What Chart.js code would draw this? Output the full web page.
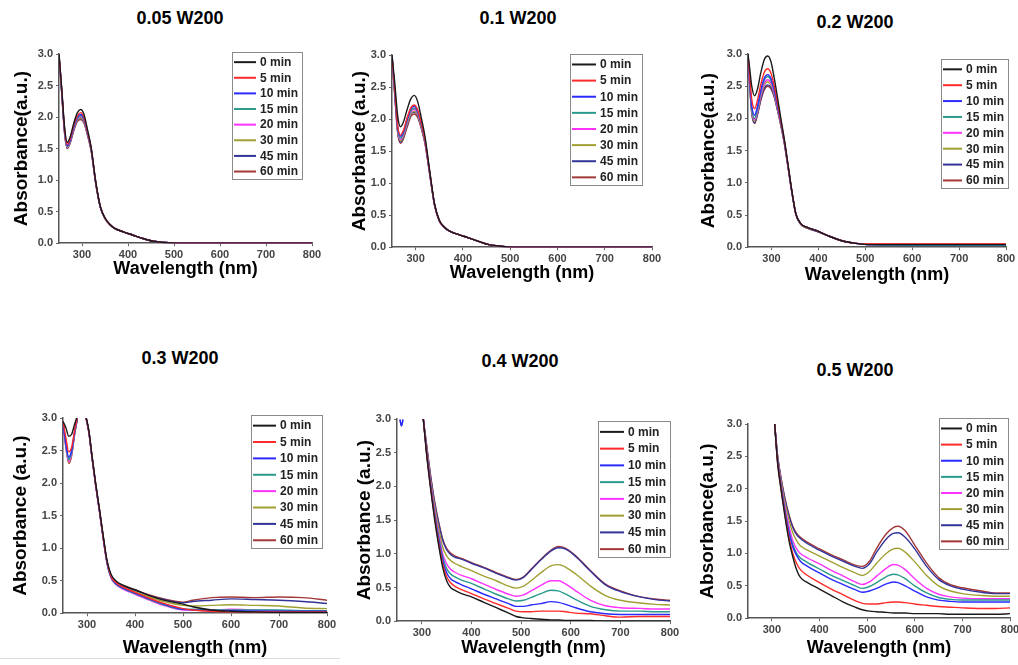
<!DOCTYPE html>
<html>
<head>
<meta charset="utf-8">
<script src="https://cdn.jsdelivr.net/npm/chart.js@4.4.1/dist/chart.umd.min.js"></script>
<style>
  html, body { margin: 0; padding: 0; background: #fff; overflow: hidden; width: 1018px; height: 665px; }
  canvas { position: absolute; }
  .ttl { position: absolute; font: bold 18px 'Liberation Sans', Arial, sans-serif; color: #000; transform: translate(-50%, -50%); white-space: nowrap; }
  .rule { position: absolute; left: 0; top: 658px; width: 340px; height: 1px; background: #ddd; }
</style>
</head>
<body>
<div class="rule"></div>
<script>
// legend labels + colours (same in every panel)
const minutes = ['0 min', '5 min', '10 min', '15 min', '20 min', '30 min', '45 min', '60 min'];
const lineColors = ['#1a1a1a', '#ff2a2a', '#2a2aff', '#2a9a8c', '#ff33ff', '#a0a032', '#33339a', '#a33838'];
const xTicks = [300, 400, 500, 600, 700, 800];

// 0.05 W200
const wlA = [250, 256, 262, 268, 274, 282, 290, 297, 304, 312, 320, 330, 340, 350, 360, 372, 390, 410, 430, 455, 480, 510, 600, 700, 800];
const absA = [
  [3.0, 2.45, 1.85, 1.6, 1.68, 1.9, 2.07, 2.12, 2.05, 1.8, 1.52, 0.97, 0.58, 0.4, 0.3, 0.23, 0.18, 0.13, 0.08, 0.03, 0.01, 0, 0, 0, 0],
  [3.0, 2.43, 1.82, 1.57, 1.65, 1.87, 2.02, 2.07, 2.0, 1.77, 1.5, 0.96, 0.58, 0.4, 0.3, 0.23, 0.18, 0.13, 0.08, 0.03, 0.01, 0, 0, 0, 0],
  [2.98, 2.42, 1.8, 1.55, 1.63, 1.85, 2.0, 2.04, 1.98, 1.76, 1.49, 0.96, 0.57, 0.4, 0.3, 0.23, 0.18, 0.13, 0.08, 0.03, 0.01, 0, 0, 0, 0],
  [2.97, 2.4, 1.79, 1.54, 1.62, 1.83, 1.98, 2.02, 1.96, 1.75, 1.48, 0.95, 0.57, 0.4, 0.3, 0.23, 0.18, 0.13, 0.08, 0.03, 0.01, 0, 0, 0, 0],
  [2.97, 2.4, 1.78, 1.53, 1.61, 1.82, 1.97, 2.01, 1.95, 1.74, 1.48, 0.95, 0.57, 0.4, 0.3, 0.23, 0.18, 0.13, 0.08, 0.03, 0.01, 0, 0, 0, 0],
  [2.96, 2.39, 1.77, 1.52, 1.6, 1.81, 1.96, 1.99, 1.94, 1.73, 1.47, 0.95, 0.57, 0.39, 0.3, 0.23, 0.18, 0.13, 0.08, 0.03, 0.01, 0, 0, 0, 0],
  [2.96, 2.38, 1.76, 1.51, 1.59, 1.8, 1.95, 1.98, 1.93, 1.72, 1.47, 0.94, 0.57, 0.39, 0.3, 0.23, 0.18, 0.13, 0.08, 0.03, 0.01, 0, 0, 0, 0],
  [2.95, 2.37, 1.75, 1.5, 1.58, 1.78, 1.93, 1.96, 1.91, 1.71, 1.46, 0.94, 0.56, 0.39, 0.3, 0.23, 0.18, 0.13, 0.08, 0.03, 0.01, 0, 0, 0, 0]
];

// 0.1 W200
const wlB = [250, 256, 262, 268, 274, 282, 290, 297, 304, 312, 320, 330, 340, 350, 360, 372, 390, 410, 430, 455, 480, 510, 600, 700, 800];
const absB = [
  [3.0, 2.55, 2.05, 1.88, 1.95, 2.15, 2.32, 2.37, 2.28, 2.02, 1.72, 1.18, 0.68, 0.42, 0.32, 0.25, 0.2, 0.15, 0.1, 0.04, 0.015, 0, 0, 0, 0],
  [2.98, 2.45, 1.9, 1.75, 1.82, 2.02, 2.18, 2.22, 2.15, 1.94, 1.67, 1.16, 0.67, 0.42, 0.32, 0.25, 0.2, 0.15, 0.1, 0.04, 0.015, 0, 0, 0, 0],
  [3.0, 2.43, 1.88, 1.73, 1.8, 2.0, 2.16, 2.2, 2.13, 1.93, 1.66, 1.15, 0.67, 0.42, 0.32, 0.25, 0.2, 0.15, 0.1, 0.04, 0.015, 0, 0, 0, 0],
  [2.97, 2.41, 1.85, 1.7, 1.77, 1.97, 2.13, 2.17, 2.11, 1.91, 1.65, 1.15, 0.66, 0.42, 0.32, 0.25, 0.2, 0.15, 0.1, 0.04, 0.015, 0, 0, 0, 0],
  [2.97, 2.4, 1.83, 1.68, 1.75, 1.95, 2.11, 2.15, 2.09, 1.9, 1.64, 1.14, 0.66, 0.41, 0.32, 0.25, 0.2, 0.15, 0.1, 0.04, 0.015, 0, 0, 0, 0],
  [2.96, 2.38, 1.81, 1.66, 1.73, 1.92, 2.08, 2.12, 2.07, 1.88, 1.63, 1.14, 0.66, 0.41, 0.32, 0.25, 0.2, 0.15, 0.1, 0.04, 0.015, 0, 0, 0, 0],
  [2.96, 2.37, 1.8, 1.64, 1.71, 1.9, 2.07, 2.11, 2.06, 1.87, 1.62, 1.13, 0.66, 0.41, 0.31, 0.25, 0.2, 0.15, 0.1, 0.04, 0.015, 0, 0, 0, 0],
  [2.95, 2.36, 1.78, 1.62, 1.69, 1.87, 2.04, 2.08, 2.03, 1.85, 1.61, 1.13, 0.65, 0.41, 0.31, 0.25, 0.2, 0.15, 0.1, 0.04, 0.015, 0, 0, 0, 0]
];

// 0.2 W200
const wlC = [250, 254, 258, 264, 270, 277, 285, 292, 299, 306, 313, 320, 328, 336, 344, 352, 362, 375, 395, 420, 450, 480, 510, 600, 700, 800];
const absC = [
  [3.0, 2.75, 2.5, 2.35, 2.45, 2.7, 2.92, 2.97, 2.88, 2.62, 2.32, 2.0, 1.65, 1.25, 0.85, 0.52, 0.37, 0.31, 0.26, 0.18, 0.1, 0.06, 0.04, 0.04, 0.04, 0.04],
  [3.0, 2.62, 2.3, 2.15, 2.28, 2.52, 2.72, 2.77, 2.7, 2.5, 2.24, 1.96, 1.63, 1.24, 0.85, 0.52, 0.37, 0.31, 0.26, 0.18, 0.1, 0.06, 0.05, 0.05, 0.05, 0.05],
  [2.98, 2.55, 2.2, 2.05, 2.18, 2.43, 2.63, 2.68, 2.62, 2.44, 2.2, 1.94, 1.62, 1.23, 0.84, 0.52, 0.37, 0.31, 0.26, 0.18, 0.1, 0.06, 0.04, 0.04, 0.04, 0.04],
  [2.97, 2.52, 2.15, 2.0, 2.14, 2.4, 2.6, 2.65, 2.59, 2.42, 2.18, 1.93, 1.61, 1.23, 0.84, 0.52, 0.37, 0.31, 0.26, 0.18, 0.1, 0.06, 0.04, 0.03, 0.03, 0.03],
  [2.97, 2.5, 2.13, 1.98, 2.11, 2.36, 2.55, 2.6, 2.55, 2.39, 2.16, 1.92, 1.6, 1.22, 0.84, 0.51, 0.37, 0.31, 0.26, 0.18, 0.1, 0.06, 0.04, 0.04, 0.04, 0.04],
  [2.96, 2.49, 2.11, 1.96, 2.09, 2.33, 2.52, 2.57, 2.52, 2.37, 2.15, 1.91, 1.6, 1.22, 0.83, 0.51, 0.36, 0.3, 0.26, 0.18, 0.1, 0.06, 0.04, 0.04, 0.04, 0.04],
  [2.96, 2.48, 2.09, 1.93, 2.06, 2.29, 2.47, 2.52, 2.48, 2.34, 2.13, 1.9, 1.59, 1.21, 0.83, 0.51, 0.36, 0.3, 0.25, 0.18, 0.1, 0.06, 0.04, 0.03, 0.03, 0.03],
  [2.95, 2.47, 2.08, 1.92, 2.05, 2.27, 2.45, 2.5, 2.46, 2.33, 2.12, 1.89, 1.59, 1.21, 0.83, 0.51, 0.36, 0.3, 0.25, 0.18, 0.1, 0.06, 0.05, 0.05, 0.05, 0.05]
];

// 0.3 W200 (peak near 290 nm runs off scale)
const wlD = [250, 256, 262, 268, 274, 280, 286, 292, 298, 304, 310, 318, 326, 334, 342, 350, 360, 375, 400, 430, 460, 500, 520, 560, 600, 650, 700, 750, 800];
const absD = [
  [2.95, 2.85, 2.72, 2.75, 2.9, 3.05, 3.3, 3.2, 3.02, 2.8, 2.45, 2.0, 1.6, 1.18, 0.8, 0.6, 0.5, 0.43, 0.36, 0.27, 0.2, 0.14, 0.1, 0.05, 0.03, 0.02, 0.01, 0.01, 0.01],
  [2.95, 2.7, 2.48, 2.55, 2.8, 3.02, 3.3, 3.2, 3.0, 2.78, 2.43, 1.98, 1.58, 1.15, 0.78, 0.57, 0.47, 0.4, 0.32, 0.23, 0.15, 0.07, 0.05, 0.03, 0.02, 0.02, 0.02, 0.02, 0.02],
  [2.93, 2.6, 2.4, 2.5, 2.78, 3.0, 3.3, 3.2, 3.0, 2.78, 2.42, 1.98, 1.57, 1.14, 0.77, 0.56, 0.46, 0.39, 0.31, 0.22, 0.14, 0.06, 0.05, 0.04, 0.04, 0.03, 0.03, 0.03, 0.03],
  [2.93, 2.58, 2.36, 2.47, 2.76, 3.0, 3.3, 3.2, 3.0, 2.77, 2.42, 1.97, 1.57, 1.14, 0.76, 0.55, 0.45, 0.38, 0.3, 0.21, 0.13, 0.06, 0.06, 0.05, 0.05, 0.05, 0.05, 0.04, 0.04],
  [2.92, 2.55, 2.33, 2.45, 2.75, 3.0, 3.3, 3.2, 3.0, 2.77, 2.41, 1.96, 1.56, 1.13, 0.75, 0.54, 0.44, 0.37, 0.29, 0.2, 0.12, 0.05, 0.05, 0.05, 0.06, 0.05, 0.04, 0.03, 0.03],
  [2.93, 2.55, 2.32, 2.44, 2.75, 3.0, 3.3, 3.2, 3.0, 2.78, 2.42, 1.97, 1.57, 1.15, 0.77, 0.57, 0.47, 0.4, 0.33, 0.25, 0.18, 0.12, 0.11, 0.12, 0.13, 0.12, 0.11, 0.08, 0.07],
  [2.94, 2.6, 2.36, 2.47, 2.76, 3.0, 3.3, 3.2, 3.01, 2.79, 2.43, 1.98, 1.58, 1.16, 0.78, 0.58, 0.48, 0.41, 0.35, 0.27, 0.21, 0.16, 0.18, 0.2, 0.22, 0.21, 0.2, 0.18, 0.15],
  [2.94, 2.58, 2.3, 2.42, 2.74, 3.0, 3.3, 3.2, 3.01, 2.79, 2.43, 1.98, 1.58, 1.16, 0.78, 0.58, 0.48, 0.42, 0.36, 0.28, 0.22, 0.17, 0.2, 0.24, 0.25, 0.24, 0.25, 0.24, 0.2]
];

// 0.4 W200 (small blip near 260 nm, then data from ~303 nm)
const wlE = [256, 259, 262, 265, 300, 303, 310, 318, 326, 334, 342, 350, 358, 366, 380, 400, 425, 450, 475, 490, 505, 520, 540, 560, 575, 590, 610, 640, 670, 700, 740, 770, 800];
const absE = [
  [null, null, null, null, null, 3.0, 2.45, 1.95, 1.5, 1.12, 0.8, 0.6, 0.5, 0.46, 0.41, 0.36, 0.28, 0.2, 0.12, 0.07, 0.05, 0.04, 0.03, 0.02, 0.02, 0.01, 0.01, 0.01, 0, 0, 0, 0, 0],
  [null, null, null, null, null, 3.0, 2.47, 1.97, 1.53, 1.16, 0.85, 0.66, 0.57, 0.52, 0.47, 0.41, 0.33, 0.26, 0.19, 0.15, 0.14, 0.14, 0.15, 0.15, 0.15, 0.14, 0.12, 0.11, 0.08, 0.06, 0.07, 0.07, 0.07],
  [2.99, 2.9, 2.99, null, null, 3.0, 2.48, 1.99, 1.56, 1.2, 0.9, 0.72, 0.63, 0.59, 0.54, 0.48, 0.4, 0.33, 0.26, 0.22, 0.22, 0.24, 0.26, 0.29, 0.28, 0.25, 0.2, 0.14, 0.11, 0.1, 0.1, 0.1, 0.1],
  [null, null, null, null, null, 3.0, 2.5, 2.01, 1.6, 1.25, 0.95, 0.78, 0.7, 0.66, 0.61, 0.56, 0.48, 0.4, 0.33, 0.3, 0.31, 0.35, 0.41, 0.46, 0.45, 0.4, 0.32, 0.22, 0.17, 0.15, 0.15, 0.14, 0.14],
  [null, null, null, null, null, 3.0, 2.52, 2.04, 1.64, 1.3, 1.0, 0.85, 0.77, 0.73, 0.68, 0.63, 0.55, 0.47, 0.4, 0.37, 0.39, 0.45, 0.53, 0.6, 0.6, 0.55, 0.45, 0.31, 0.23, 0.2, 0.19, 0.18, 0.18],
  [null, null, null, null, null, 3.0, 2.55, 2.08, 1.7, 1.38, 1.1, 0.97, 0.9, 0.86, 0.81, 0.75, 0.67, 0.6, 0.52, 0.49, 0.52, 0.6, 0.72, 0.82, 0.84, 0.8, 0.7, 0.52, 0.38, 0.31, 0.27, 0.25, 0.24],
  [2.99, 2.9, 2.99, null, null, 3.0, 2.58, 2.13, 1.75, 1.45, 1.2, 1.06, 0.99, 0.95, 0.92, 0.86, 0.79, 0.71, 0.64, 0.61, 0.65, 0.76, 0.91, 1.04, 1.09, 1.07, 0.96, 0.74, 0.54, 0.44, 0.36, 0.32, 0.3],
  [null, null, null, null, null, 3.0, 2.6, 2.15, 1.77, 1.47, 1.22, 1.08, 1.01, 0.97, 0.93, 0.87, 0.8, 0.72, 0.65, 0.62, 0.66, 0.77, 0.92, 1.05, 1.11, 1.08, 0.97, 0.75, 0.55, 0.45, 0.36, 0.33, 0.31]
];

// 0.5 W200
const wlF = [306, 312, 320, 328, 336, 344, 352, 360, 375, 400, 425, 450, 475, 490, 505, 520, 540, 555, 565, 580, 600, 625, 650, 675, 700, 740, 770, 800];
const absF = [
  [3.0, 2.4, 1.95, 1.55, 1.2, 0.95, 0.75, 0.63, 0.55, 0.45, 0.35, 0.25, 0.17, 0.13, 0.11, 0.1, 0.09, 0.08, 0.08, 0.08, 0.07, 0.07, 0.07, 0.06, 0.06, 0.06, 0.06, 0.07],
  [3.0, 2.42, 1.97, 1.58, 1.25, 1.0, 0.85, 0.75, 0.66, 0.55, 0.45, 0.36, 0.27, 0.23, 0.22, 0.22, 0.24, 0.25, 0.25, 0.24, 0.22, 0.2, 0.18, 0.17, 0.16, 0.15, 0.15, 0.16],
  [3.0, 2.45, 2.0, 1.62, 1.32, 1.1, 0.97, 0.88, 0.8, 0.7, 0.6, 0.52, 0.44, 0.4, 0.42, 0.46, 0.53, 0.56, 0.55, 0.5, 0.42, 0.33, 0.28, 0.26, 0.25, 0.25, 0.25, 0.25],
  [3.0, 2.45, 2.02, 1.65, 1.35, 1.14, 1.0, 0.93, 0.86, 0.76, 0.66, 0.58, 0.5, 0.46, 0.49, 0.55, 0.64, 0.68, 0.67, 0.61, 0.5, 0.39, 0.32, 0.29, 0.28, 0.28, 0.28, 0.28],
  [3.0, 2.47, 2.05, 1.7, 1.42, 1.2, 1.07, 1.0, 0.93, 0.84, 0.74, 0.65, 0.56, 0.52, 0.56, 0.65, 0.77, 0.83, 0.82, 0.75, 0.61, 0.46, 0.37, 0.33, 0.31, 0.3, 0.3, 0.3],
  [3.0, 2.5, 2.1, 1.77, 1.52, 1.32, 1.2, 1.12, 1.05, 0.96, 0.87, 0.78, 0.7, 0.66, 0.72, 0.85, 1.0, 1.07, 1.08, 1.02, 0.87, 0.66, 0.5, 0.42, 0.38, 0.35, 0.34, 0.34],
  [3.0, 2.52, 2.13, 1.82, 1.58, 1.4, 1.29, 1.23, 1.15, 1.05, 0.96, 0.88, 0.8, 0.77, 0.84, 1.02, 1.22, 1.31, 1.32, 1.25, 1.07, 0.8, 0.6, 0.5, 0.45, 0.4, 0.38, 0.38],
  [3.0, 2.52, 2.14, 1.84, 1.6, 1.42, 1.31, 1.25, 1.17, 1.07, 0.98, 0.9, 0.82, 0.8, 0.88, 1.08, 1.3, 1.4, 1.42, 1.35, 1.13, 0.85, 0.63, 0.52, 0.47, 0.42, 0.39, 0.39]
];

const FONT = "'Liberation Sans', Arial, sans-serif";

// page layout: plot box [l, t, r, b], axis-title centres, legend box [x, y, w, h]
const panels = [
  { title: '0.05 W200', tx: 180, ty: 18, wl: wlA, abs: absA, plot: [59, 54, 312, 243], yLab: 'Absorbance(a.u.)', yTx: 22, xTy: 269, leg: [232, 52, 70, 127] },
  { title: '0.1 W200', tx: 518, ty: 18, wl: wlB, abs: absB, plot: [392, 55, 652, 247], yLab: 'Absorbance (a.u.)', yTx: 360, xTy: 273, leg: [570, 54, 72, 131] },
  { title: '0.2 W200', tx: 855, ty: 22, wl: wlC, abs: absC, plot: [748, 54, 1006, 247], yLab: 'Absorbance(a.u.)', yTx: 709, xTy: 275, leg: [941, 59, 67, 129] },
  { title: '0.3 W200', tx: 180, ty: 358, wl: wlD, abs: absD, plot: [63, 418, 327, 613], yLab: 'Absorbance (a.u.)', yTx: 21, xTy: 648, leg: [251, 415, 71, 133] },
  { title: '0.4 W200', tx: 520, ty: 361, wl: wlE, abs: absE, plot: [397, 419, 670, 621], yLab: 'Absorbance (a.u.)', yTx: 365, xTy: 648, leg: [598, 421, 72, 136] },
  { title: '0.5 W200', tx: 855, ty: 370, wl: wlF, abs: absF, plot: [748, 424, 1010, 618], yLab: 'Absorbance(a.u.)', yTx: 708, xTy: 648, leg: [939, 418, 69, 131] }
];

function boxLegend(p, cl, ct) {
  return {
    id: 'boxLegend',
    afterDraw(chart) {
      const c = chart.ctx;
      const [x0, y0, w, h] = p.leg;
      const x = x0 - cl, y = y0 - ct;
      const step = (h - 2) / 8;
      const tx = x + w - 42;
      c.save();
      c.fillStyle = '#fff';
      c.fillRect(x, y, w, h);
      c.strokeStyle = '#8a8a8a';
      c.lineWidth = 1;
      c.strokeRect(x + 0.5, y + 0.5, w, h);
      c.font = 'bold 12px ' + FONT;
      c.textBaseline = 'middle';
      chart.data.datasets.forEach((ds, i) => {
        const yy = y + step * (i + 0.65);
        c.strokeStyle = ds.borderColor;
        c.lineWidth = 2;
        c.beginPath();
        c.moveTo(x + 2, yy);
        c.lineTo(tx - 4, yy);
        c.stroke();
        c.fillStyle = '#222';
        c.fillText(ds.label, tx, yy + 0.5);
      });
      c.restore();
    }
  };
}

panels.forEach(p => {
  const [l, t, r, b] = p.plot;
  const yW = l - (p.yTx - 11.4);
  const xH = (p.xTy + 10.8) - b;
  const padL = 4, padT = 12, padR = 16, padB = 4;
  const cl = Math.round(l - yW - padL);
  const ct = t - padT;
  const cw = r + padR - cl;
  const ch = Math.round(b + xH + padB - ct);

  const ttl = document.createElement('div');
  ttl.className = 'ttl';
  ttl.style.left = p.tx + 'px';
  ttl.style.top = p.ty + 'px';
  ttl.textContent = p.title;
  document.body.appendChild(ttl);

  const cv = document.createElement('canvas');
  cv.width = cw; cv.height = ch;
  cv.style.left = cl + 'px'; cv.style.top = ct + 'px';
  cv.style.width = cw + 'px'; cv.style.height = ch + 'px';
  document.body.appendChild(cv);

  const datasets = minutes.map((m, i) => ({
    label: m,
    data: p.wl.map((x, k) => ({ x: x, y: p.abs[i][k] })),
    borderColor: lineColors[i],
    borderWidth: 1.4,
    pointRadius: 0,
    cubicInterpolationMode: 'monotone',
    spanGaps: false
  }));

  new Chart(cv.getContext('2d'), {
    type: 'line',
    data: { datasets: datasets },
    options: {
      responsive: false,
      animation: false,
      devicePixelRatio: 1,
      layout: { padding: { left: l - yW - cl, top: padT, right: padR, bottom: padB } },
      plugins: { legend: { display: false }, tooltip: { enabled: false } },
      scales: {
        x: {
          type: 'linear', min: 250, max: 800,
          afterBuildTicks: s => { s.ticks = xTicks.map(v => ({ value: v })); },
          afterFit: s => { s.height = xH; },
          ticks: { color: '#444', font: { family: FONT, size: 11, weight: 'bold' }, padding: 2, maxRotation: 0, autoSkip: false },
          grid: { drawOnChartArea: false, drawTicks: true, tickLength: 3, color: '#666' },
          border: { color: '#555', width: 1.5 },
          title: { display: true, text: 'Wavelength (nm)', color: '#000', padding: 0, font: { family: FONT, size: 18, weight: 'bold' } }
        },
        y: {
          min: 0, max: 3,
          afterFit: s => { s.width = yW; },
          ticks: { stepSize: 0.5, color: '#444', callback: v => v.toFixed(1), font: { family: FONT, size: 11, weight: 'bold' }, padding: 3 },
          grid: { drawOnChartArea: false, drawTicks: true, tickLength: 3, color: '#666' },
          border: { color: '#555', width: 1.5 },
          title: { display: true, text: p.yLab, color: '#000', padding: 0, font: { family: FONT, size: 19, weight: 'bold' } }
        }
      }
    },
    plugins: [boxLegend(p, cl, ct)]
  });
});
</script>
</body>
</html>
